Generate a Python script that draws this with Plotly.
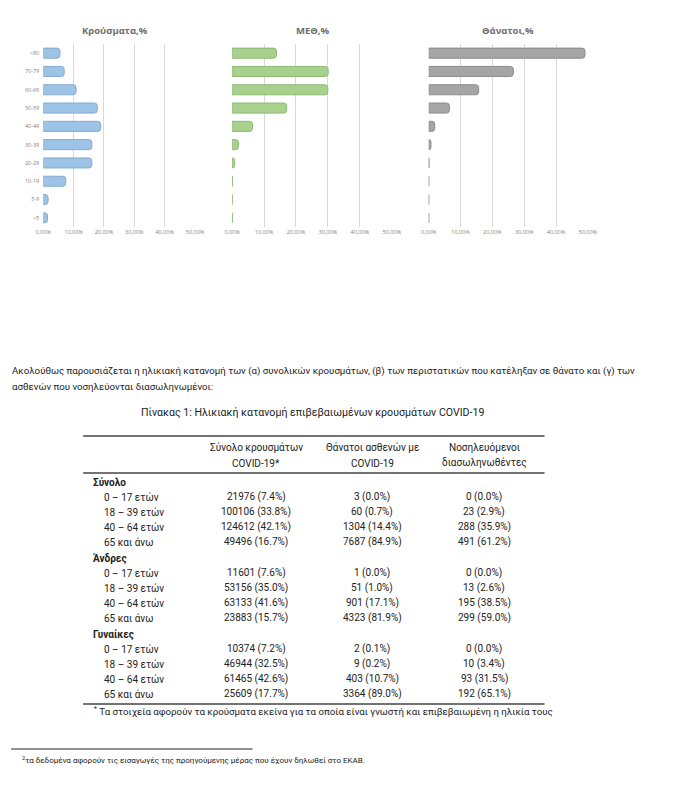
import plotly.graph_objects as go

# ---------------- data ----------------
age_groups = [">80", "70-79", "60-69", "50-59", "40-49", "30-39", "20-29", "10-19", "5-9", "<5"]
cases_pct = [5.5, 6.9, 10.8, 17.8, 18.9, 16.0, 16.0, 7.4, 1.6, 1.4]
icu_pct = [13.9, 30.1, 30.0, 17.1, 6.4, 2.0, 0.8, 0.1, 0.0, 0.05]
deaths_pct = [49.1, 26.6, 15.7, 6.5, 1.9, 0.7, 0.1, 0.0, 0.0, 0.0]
chart_titles = ["Κρούσματα,%", "ΜΕΘ,%", "Θάνατοι,%"]
x_ticks = [0.0, 0.1, 0.2, 0.3, 0.4, 0.5]

paragraph_lines = [
    "Ακολούθως παρουσιάζεται η ηλικιακή κατανομή των (α) συνολικών κρουσμάτων, (β) των περιστατικών που κατέληξαν σε θάνατο και (γ) των",
    "ασθενών που νοσηλεύονται διασωληνωμένοι:",
]
table_caption = "Πίνακας 1: Ηλικιακή κατανομή επιβεβαιωμένων κρουσμάτων COVID-19"
table_headers = [
    ["Σύνολο κρουσμάτων", "COVID-19*"],
    ["Θάνατοι ασθενών με", "COVID-19"],
    ["Νοσηλευόμενοι", "διασωληνωθέντες"],
]
table_groups = ["Σύνολο", "Άνδρες", "Γυναίκες"]
table_ages = ["0 – 17 ετών", "18 – 39 ετών", "40 – 64 ετών", "65 και άνω"]

total_cases = [21976, 100106, 124612, 49496]
total_cases_pct = [7.4, 33.8, 42.1, 16.7]
total_deaths = [3, 60, 1304, 7687]
total_deaths_pct = [0.0, 0.7, 14.4, 84.9]
total_intub = [0, 23, 288, 491]
total_intub_pct = [0.0, 2.9, 35.9, 61.2]

men_cases = [11601, 53156, 63133, 23883]
men_cases_pct = [7.6, 35.0, 41.6, 15.7]
men_deaths = [1, 51, 901, 4323]
men_deaths_pct = [0.0, 1.0, 17.1, 81.9]
men_intub = [0, 13, 195, 299]
men_intub_pct = [0.0, 2.6, 38.5, 59.0]

women_cases = [10374, 46944, 61465, 25609]
women_cases_pct = [7.2, 32.5, 42.6, 17.7]
women_deaths = [2, 9, 403, 3364]
women_deaths_pct = [0.1, 0.2, 10.7, 89.0]
women_intub = [0, 10, 93, 192]
women_intub_pct = [0.0, 3.4, 31.5, 65.1]

table_footnote = "Τα στοιχεία αφορούν τα κρούσματα εκείνα για τα οποία είναι γνωστή και επιβεβαιωμένη η ηλικία τους"
page_footnote = "τα δεδομένα αφορούν τις εισαγωγές της προηγούμενης μέρας που έχουν δηλωθεί στο ΕΚΑΒ."

# ---------------- layout helpers ----------------
W, H = 676, 789
OFF = 8  # page body margin offset


def px(x):
    return (x - OFF) / W


def py(y):
    return 1 - (y - OFF) / H


fig = go.Figure()

bar_colors = ["#9DC3E6", "#A9D18E", "#A5A5A5"]
bar_edges = ["#86ABCF", "#8FB874", "#8C8C8C"]
series = [cases_pct, icu_pct, deaths_pct]
x_domains = [(36, 192), (230, 394), (432, 595.5)]
plot_top, plot_bottom = 44, 227

for i, vals in enumerate(series):
    suffix = "" if i == 0 else str(i + 1)
    fig.add_trace(go.Bar(
        x=[v / 100 for v in vals], y=age_groups, orientation="h",
        marker=dict(color=bar_colors[i], line=dict(color=bar_edges[i], width=1)),
        xaxis="x" + suffix, yaxis="y" + suffix, showlegend=False,
    ))
    fig.layout["xaxis" + suffix] = dict(
        domain=[px(x_domains[i][0]), px(x_domains[i][1])],
        range=[0, 0.5], tickvals=x_ticks, tickformat=".2%",
        showgrid=True, gridcolor="#D9D9D9", gridwidth=1, zeroline=False,
        showline=False, ticks="", anchor="y" + suffix,
        tickfont=dict(size=5.5, color="#7F7F7F", family="Open Sans"),
        fixedrange=True,
    )
    fig.layout["yaxis" + suffix] = dict(
        domain=[py(plot_bottom), py(plot_top)],
        autorange="reversed", showgrid=False, zeroline=False, showline=False,
        showticklabels=(i == 0), ticks="", anchor="x" + suffix,
        tickfont=dict(size=5.5, color="#7F7F7F", family="Open Sans"),
        ticklabelstandoff=3, fixedrange=True,
    )

annotations = []
title_x = [110, 313, 513]
for t, xc in zip(chart_titles, title_x):
    annotations.append(dict(text="<b>" + t + "</b>", x=px(xc), y=py(31), xref="paper", yref="paper",
                            xanchor="center", yanchor="middle", showarrow=False,
                            font=dict(size=9.5, color="#6E6E6E", family="Open Sans")))

txt_font = dict(size=10, color="#222222", family="Roboto")

for j, line in enumerate(paragraph_lines):
    annotations.append(dict(text=line, x=px(2), y=py(371 + 15 * j), xref="paper", yref="paper",
                            xanchor="left", yanchor="middle", showarrow=False,
                            font=dict(size=9.7, color="#222222", family="Roboto")))

annotations.append(dict(text=table_caption, x=px(313), y=py(412), xref="paper", yref="paper",
                        xanchor="center", yanchor="middle", showarrow=False,
                        font=dict(size=10.6, color="#222222", family="Roboto")))

col_x = [255, 374, 489]
for cx, hdr in zip(col_x, table_headers):
    for k, h in enumerate(hdr):
        annotations.append(dict(text=h, x=px(cx), y=py(448 + 15 * k), xref="paper", yref="paper",
                                xanchor="center", yanchor="middle", showarrow=False, font=txt_font))

group_data = [
    (total_cases, total_cases_pct, total_deaths, total_deaths_pct, total_intub, total_intub_pct),
    (men_cases, men_cases_pct, men_deaths, men_deaths_pct, men_intub, men_intub_pct),
    (women_cases, women_cases_pct, women_deaths, women_deaths_pct, women_intub, women_intub_pct),
]
group_y = [482, 558, 634]
for g, gy, data in zip(table_groups, group_y, group_data):
    annotations.append(dict(text="<b>" + g + "</b>", x=px(85), y=py(gy), xref="paper", yref="paper",
                            xanchor="left", yanchor="middle", showarrow=False, font=txt_font))
    for r, age in enumerate(table_ages):
        ry = gy + 15 * (r + 1)
        annotations.append(dict(text=age, x=px(96), y=py(ry), xref="paper", yref="paper",
                                xanchor="left", yanchor="middle", showarrow=False, font=txt_font))
        for c in range(3):
            n = data[2 * c][r]
            p = data[2 * c + 1][r]
            annotations.append(dict(text=f"{n} ({p:.1f}%)", x=px(col_x[c]), y=py(ry),
                                    xref="paper", yref="paper", xanchor="center", yanchor="middle",
                                    showarrow=False, font=txt_font))

annotations.append(dict(text="<sup>*</sup> " + table_footnote, x=px(86), y=py(711), xref="paper", yref="paper",
                        xanchor="left", yanchor="middle", showarrow=False,
                        font=dict(size=9.7, color="#222222", family="Roboto")))
annotations.append(dict(text="<sup>2</sup>" + page_footnote, x=px(12), y=py(760), xref="paper", yref="paper",
                        xanchor="left", yanchor="middle", showarrow=False,
                        font=dict(size=8, color="#222222", family="Roboto")))

shapes = []
for ry in [436, 473, 704]:
    shapes.append(dict(type="line", xref="paper", yref="paper", x0=px(77), x1=px(551),
                       y0=py(ry), y1=py(ry), line=dict(color="#444444", width=1.3)))
shapes.append(dict(type="line", xref="paper", yref="paper", x0=px(3), x1=px(251),
                   y0=py(749), y1=py(749), line=dict(color="#222222", width=1)))

fig.update_layout(
    width=W, height=H, margin=dict(l=0, r=0, t=0, b=0),
    paper_bgcolor="white", plot_bgcolor="white",
    separators=",.", bargap=0.45, barcornerradius=3,
    annotations=annotations, shapes=shapes,
)

fig.write_html("out.html")
